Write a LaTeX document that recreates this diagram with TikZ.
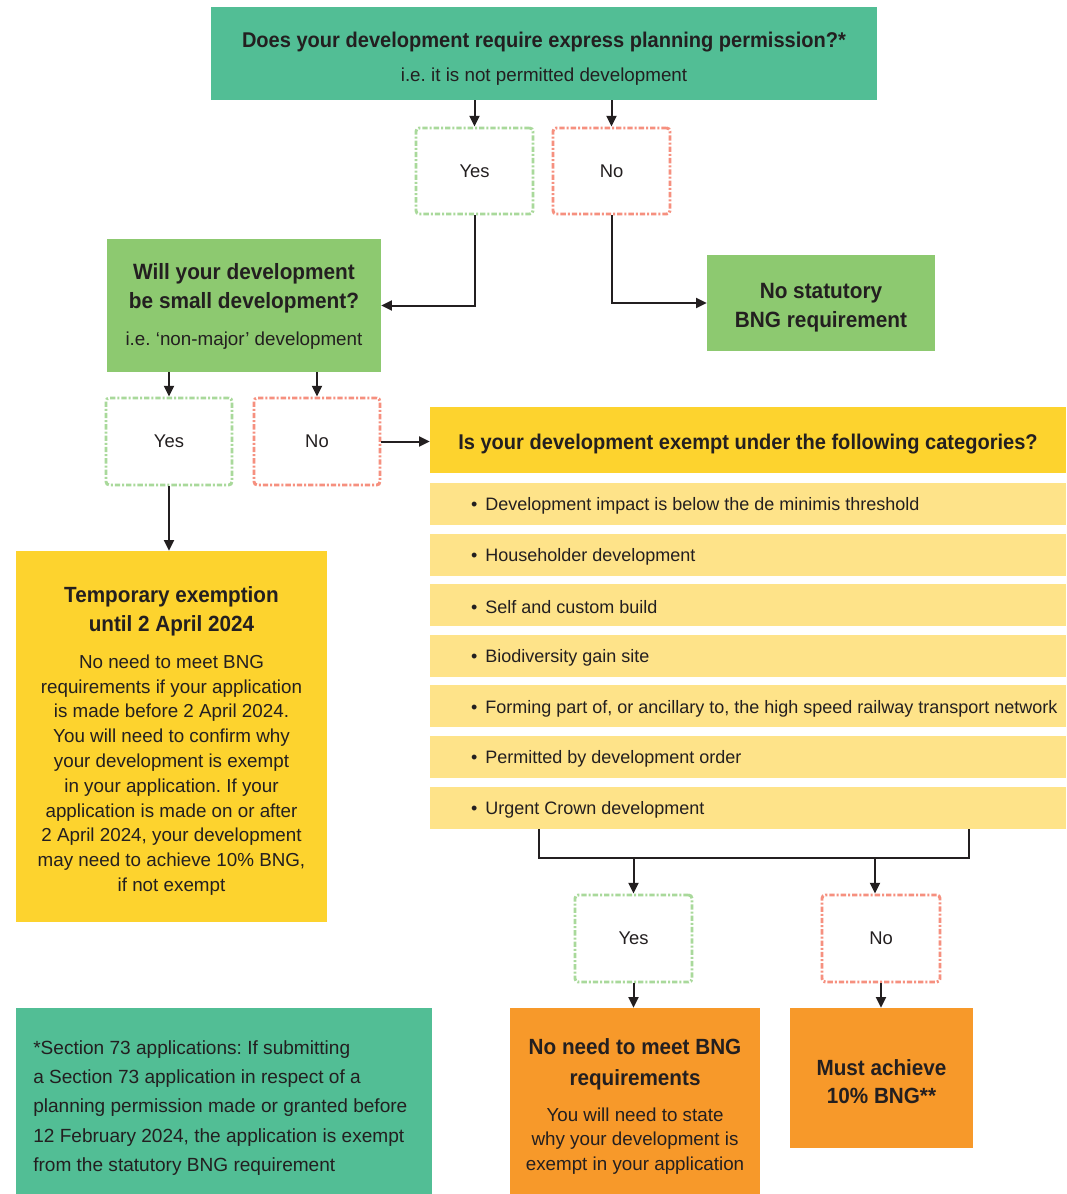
\documentclass[tikz,border=0pt]{standalone}
\usepackage{fontspec}
\setmainfont[BoldFeatures={FakeStretch=0.94}]{Liberation Sans}
\usetikzlibrary{arrows.meta}
\frenchspacing
\definecolor{cTeal}{HTML}{52BE95}
\definecolor{cGreen}{HTML}{8DC970}
\definecolor{cYellow}{HTML}{FDD32E}
\definecolor{cLight}{HTML}{FEE389}
\definecolor{cOrange}{HTML}{F7992A}
\definecolor{cDashG}{HTML}{A9D99B}
\definecolor{cDashR}{HTML}{F6907F}
\definecolor{cInk}{HTML}{231F20}
\begin{document}
\begin{tikzpicture}[x=0.75pt,y=-0.75pt,
  fbox/.style={draw=none,inner sep=0pt},
  ansbox/.style={draw,line width=2.2pt,rounded corners=2.5pt,dash pattern=on 4pt off 1.5pt on 1.5pt off 1.5pt,fill=white,inner sep=0pt,minimum width=117*0.75pt,minimum height=86*0.75pt,font=\fontsize{13.8}{16}\selectfont,text=cInk},
  yesbox/.style={ansbox,draw=cDashG},
  nobox/.style={ansbox,draw=cDashR},
  ttl/.style={font=\bfseries\fontsize{16.6}{21.8}\selectfont,align=center,text=cInk,inner sep=0pt},
  sub/.style={font=\fontsize{14.1}{18.6}\selectfont,align=center,text=cInk,inner sep=0pt},
  row/.style={fbox,fill=cLight,minimum width=636*0.75pt,minimum height=42*0.75pt},
  rowtxt/.style={font=\fontsize{13.5}{15}\selectfont,text=cInk,anchor=west,inner sep=0pt,xshift=30.75pt,yshift=-1.5pt},
  arr/.style={draw=cInk,line width=1.5pt,-{Triangle[length=8pt,width=7.5pt]}},
  ln/.style={draw=cInk,line width=1.5pt}
]
\useasboundingbox (0,0) rectangle (1066,1194);
\fill[white] (0,0) rectangle (1066,1194);

% boxes
\node[fbox,fill=cTeal,minimum width=666*0.75pt,minimum height=93*0.75pt] (q1) at (544,53.5) {};
\node[yesbox] (y1) at (474.5,171) {Yes};
\node[nobox] (n1) at (611.5,171) {No};
\node[fbox,fill=cGreen,minimum width=274*0.75pt,minimum height=133*0.75pt] (q2) at (244,305.5) {};
\node[fbox,fill=cGreen,minimum width=228*0.75pt,minimum height=96*0.75pt] (nb) at (821,303) {};
\node[yesbox,minimum width=126*0.75pt,minimum height=87*0.75pt] (y2) at (169,441.5) {Yes};
\node[nobox,minimum width=126*0.75pt,minimum height=87*0.75pt] (n2) at (317,441.5) {No};
\node[fbox,fill=cYellow,minimum width=311*0.75pt,minimum height=371*0.75pt] (tmp) at (171.5,736.5) {};
\node[fbox,fill=cYellow,minimum width=636*0.75pt,minimum height=66*0.75pt] (q3) at (748,440) {};
\node[row] (r1) at (748,504) {};
\node[row] (r2) at (748,554.6) {};
\node[row] (r3) at (748,605.2) {};
\node[row] (r4) at (748,655.8) {};
\node[row] (r5) at (748,706.4) {};
\node[row] (r6) at (748,757) {};
\node[row] (r7) at (748,807.6) {};
\node[yesbox,minimum width=117*0.75pt,minimum height=87*0.75pt] (y3) at (633.5,938.5) {Yes};
\node[nobox,minimum width=118*0.75pt,minimum height=87*0.75pt] (n3) at (881,938.5) {No};
\node[fbox,fill=cOrange,minimum width=250*0.75pt,minimum height=186*0.75pt] (nn) at (635,1101) {};
\node[fbox,fill=cOrange,minimum width=183*0.75pt,minimum height=140*0.75pt] (must) at (881.5,1078) {};
\node[fbox,fill=cTeal,minimum width=416*0.75pt,minimum height=186*0.75pt] (foot) at (224,1101) {};

% texts
\node[ttl,font=\bfseries\fontsize{16}{20}\selectfont] (q1a) at (544,42) {Does your development require express planning permission?*};
\node[sub] (q1b) at (544,76.5) {i.e. it is not permitted development};
\node[ttl] (q2a) at (244,288.5) {Will your development\\be small development?};
\node[sub] (q2b) at (244,341) {i.e. ‘non-major’ development};
\node[ttl] (nba) at (821,307.5) {No statutory\\BNG requirement};
\node[ttl,font=\bfseries\fontsize{16.5}{21.8}\selectfont] (tmpa) at (171.5,611.5) {Temporary exemption\\until 2 April 2024};
\node[sub] (tmpb) at (171.5,775) {No need to meet BNG\\requirements if your application\\is made before 2 April 2024.\\You will need to confirm why\\your development is exempt\\in your application. If your\\application is made on or after\\2 April 2024, your development\\may need to achieve 10\% BNG,\\if not exempt};
\node[ttl,font=\bfseries\fontsize{16}{20}\selectfont] (q3a) at (748,444.5) {Is your development exempt under the following categories?};
\node[rowtxt] (t1) at (r1.west) {•\hspace{6pt}Development impact is below the de minimis threshold};
\node[rowtxt] (t2) at (r2.west) {•\hspace{6pt}Householder development};
\node[rowtxt] (t3) at (r3.west) {•\hspace{6pt}Self and custom build};
\node[rowtxt] (t4) at (r4.west) {•\hspace{6pt}Biodiversity gain site};
\node[rowtxt] (t5) at (r5.west) {•\hspace{6pt}Forming part of, or ancillary to, the high speed railway transport network};
\node[rowtxt] (t6) at (r6.west) {•\hspace{6pt}Permitted by development order};
\node[rowtxt] (t7) at (r7.west) {•\hspace{6pt}Urgent Crown development};
\node[ttl,font=\bfseries\fontsize{16.5}{23}\selectfont] (nna) at (635,1064.5) {No need to meet BNG\\requirements};
\node[sub] (nnb) at (635,1141) {You will need to state\\why your development is\\exempt in your application};
\node[ttl,font=\bfseries\fontsize{16.5}{21}\selectfont] (musta) at (881.5,1082) {Must achieve\\10\% BNG**};
\node[sub,font=\fontsize{14.3}{22.1}\selectfont,align=left,anchor=west] (foota) at (33,1108) {*Section 73 applications: If submitting\\a Section 73 application in respect of a\\planning permission made or granted before\\12 February 2024, the application is exempt\\from the statutory BNG requirement};

% connectors
\draw[arr] (q1.south -| y1.north) -- (y1.north);
\draw[arr] (q1.south -| n1.north) -- (n1.north);
\draw[arr] (y1.south) |- (q2.east);
\draw[arr] (n1.south) |- (nb.west);
\draw[arr] (q2.south -| y2.north) -- (y2.north);
\draw[arr] (q2.south -| n2.north) -- (n2.north);
\draw[arr] (n2.east) -- (n2.east -| q3.west);
\draw[arr] (y2.south) -- (y2.south |- tmp.north);
\coordinate (jL) at (539,858);
\coordinate (jR) at (969,858);
\coordinate (jN) at (875,858);
\draw[ln] (r7.south -| jL) -- (jL) -- (jR) -- (r7.south -| jR);
\draw[arr] (jL -| y3.north) -- (y3.north);
\draw[arr] (jN) -- (jN |- n3.north);
\draw[arr] (y3.south) -- (y3.south |- nn.north);
\draw[arr] (n3.south) -- (n3.south |- must.north);
\end{tikzpicture}
\end{document}
